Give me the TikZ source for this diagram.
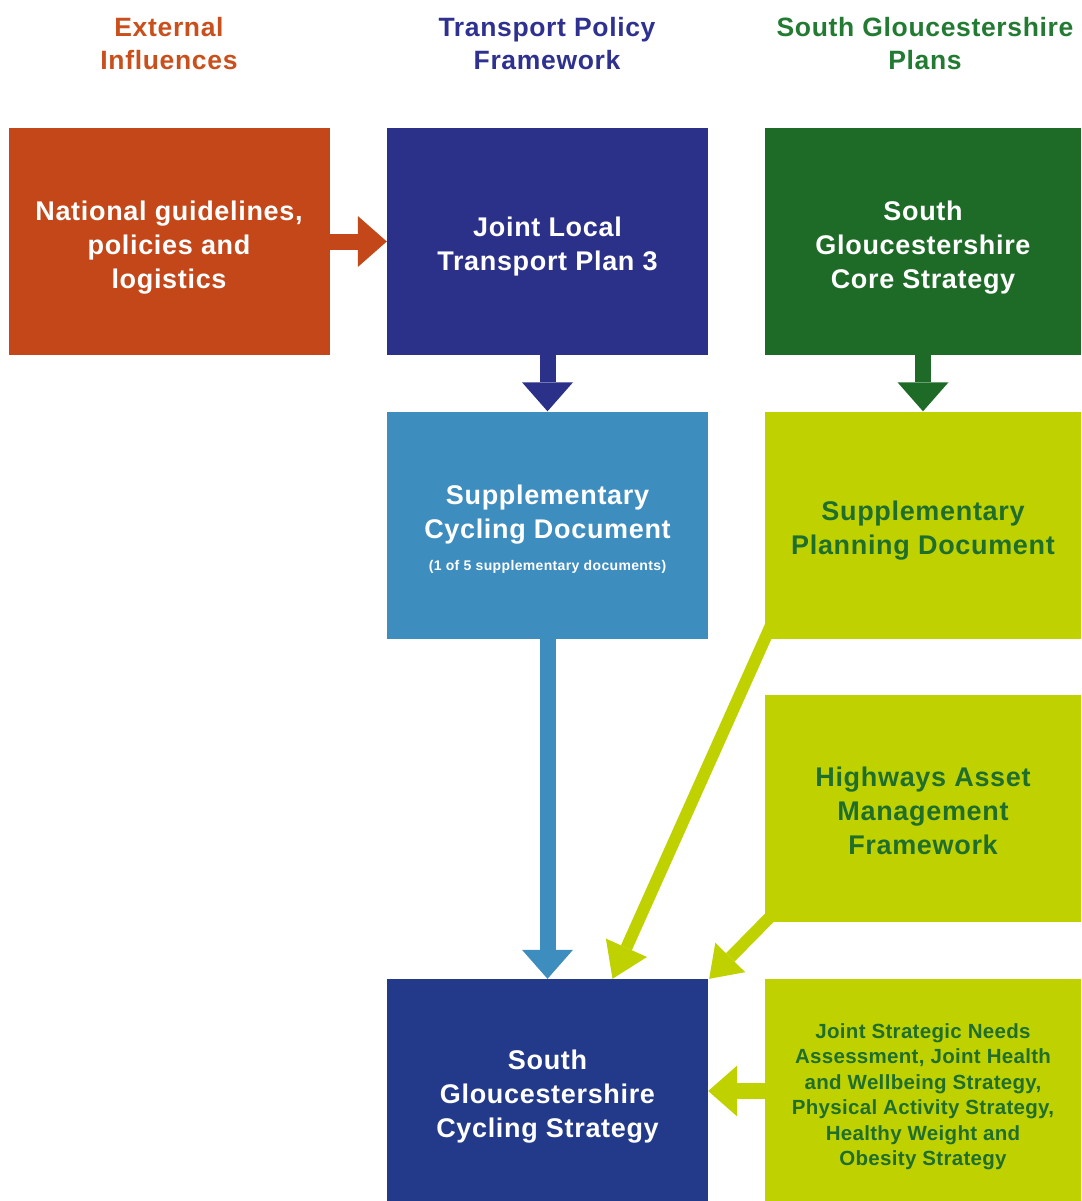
\documentclass[tikz,border=0pt]{standalone}
\usepackage{fontspec}
\setmainfont{Liberation Sans}[LetterSpace=2.5]
\usetikzlibrary{arrows.meta,calc}
\definecolor{extor}{HTML}{C4471A}
\definecolor{ltpnavy}{HTML}{2B3088}
\definecolor{coregreen}{HTML}{1E6B28}
\definecolor{scdblue}{HTML}{3E8DBF}
\definecolor{lime}{HTML}{BFD200}
\definecolor{sgnavy}{HTML}{233A8A}
\definecolor{hdor}{HTML}{C9501C}
\definecolor{hdnavy}{HTML}{2E3190}
\definecolor{hdgreen}{HTML}{237B33}
\definecolor{txgreen}{HTML}{1F6E2C}
\tikzset{
  box/.style={rectangle, inner sep=0pt, minimum height=227pt, align=center,
    text depth=0pt, font=\bfseries\fontsize{27}{34}\selectfont},
  leftbox/.style={box, minimum width=321pt},
  rightbox/.style={box, minimum width=316pt},
  header/.style={align=center, inner sep=0pt, font=\bfseries\fontsize{26.5}{33}\selectfont},
  fatarrow/.style={line width=16pt, -{Triangle[width=51pt,length=29pt,line width=0pt]}},
  thinarrow/.style={line width=12pt, -{Triangle[width=45pt,length=34pt,line width=0pt]}},
}
\begin{document}
\begin{tikzpicture}[x=1pt,y=-1pt]
\useasboundingbox[fill=white] (0,0) rectangle (1081,1201);
% headers
\node[header, text=hdor] (h1) at (169,44) {External\\Influences};
\node[header, text=hdnavy] (h2) at (547,44) {Transport Policy\\Framework};
\node[header, text=hdgreen] (h3) at (925,44) {South Gloucestershire\\Plans};
% boxes
\node[leftbox, fill=extor, text=white, text height=93pt] (ext) at (169,241.5) {National guidelines,\\policies and\\logistics};
\node[leftbox, fill=ltpnavy, text=white, text height=57pt] (ltp) at (547.5,241.5) {Joint Local\\Transport Plan 3};
\node[rightbox, fill=coregreen, text=white, text height=93pt] (core) at (923,241.5) {South\\Gloucestershire\\Core Strategy};
\node[leftbox, fill=scdblue, text=white, text height=91pt] (scd) at (547.5,525) {Supplementary\\Cycling Document\\[-2pt]{\fontsize{14}{18}\selectfont (1 of 5 supplementary documents)}};
\node[rightbox, fill=lime, text=txgreen, text height=59pt] (spd) at (923,525) {Supplementary\\Planning Document};
\node[rightbox, fill=lime, text=txgreen, text height=92pt] (hw) at (923,808.5) {Highways Asset\\Management\\Framework};
\node[leftbox, fill=sgnavy, text=white, minimum height=224pt, text height=93pt] (sgcs) at (547.5,1091) {South\\Gloucestershire\\Cycling Strategy};
\node[rightbox, fill=lime, text=txgreen, minimum height=224pt, text height=149pt, font=\bfseries\fontsize{20.5}{25.5}\selectfont\addfontfeature{LetterSpace=1.5}] (js) at (923,1091) {Joint Strategic Needs\\Assessment, Joint Health\\and Wellbeing Strategy,\\Physical Activity Strategy,\\Healthy Weight and\\Obesity Strategy};
% connectors
\draw[fatarrow, extor] (ext) -- (ltp);
\draw[fatarrow, ltpnavy] (ltp) -- (scd);
\draw[fatarrow, coregreen] (core) -- (spd);
\draw[fatarrow, scdblue] (scd) -- (sgcs);
\draw[fatarrow, lime] (js) -- (sgcs);
\coordinate (d1s) at ($(spd.south west)+(6,-13)$);
\coordinate (d1e) at ($(sgcs.north)+(65,0)$);
\coordinate (d2s) at ($(hw.south west)+(10,-10)$);
\coordinate (d2e) at ($(sgcs.north east)+(1,0)$);
\draw[thinarrow, lime] (d1s) -- (d1e);
\draw[thinarrow, lime, -{Triangle[width=42pt,length=30pt,line width=0pt]}] (d2s) -- (d2e);
\end{tikzpicture}
\end{document}
